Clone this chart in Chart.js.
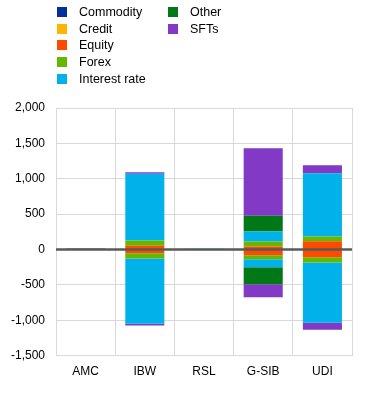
<!DOCTYPE html>
<html>
<head>
<meta charset="utf-8">
<script src="https://cdn.jsdelivr.net/npm/chart.js@4.4.1/dist/chart.umd.min.js"></script>
<style>
  html, body { margin: 0; padding: 0; background: #fff; }
  #wrap { position: relative; width: 373px; height: 407px; }
  #graf { position: absolute; left: 0; top: 0; }
  #leyenda { position: absolute; left: 57px; top: 4px; font-family: "Liberation Sans", Arial, sans-serif; font-size: 12.5px; color: #000; }
  .item { position: absolute; white-space: nowrap; height: 17px; line-height: 17px; }
  .caja { display: inline-block; width: 10px; height: 10px; vertical-align: -1px; margin-right: 12px; }
</style>
</head>
<body>
<div id="wrap">
  <canvas id="graf" width="373" height="407"></canvas>
  <div id="leyenda"></div>
</div>
<script>
const categorias = ['AMC', 'IBW', 'RSL', 'G-SIB', 'UDI'];

const tipos = ['Commodity', 'Credit', 'Equity', 'Forex', 'Interest rate', 'Other', 'SFTs'];
const colores = ['#003299', '#ffb400', '#ff4b00', '#65b800', '#00b1ea', '#007816', '#8139c6'];

// posiciones positivas (largas)
const commodityPos = [0, 0, 0, 0, 0];
const creditPos = [0, 0, 0, 0, 0];
const equityPos = [0, 52, 0, 42, 118];
const forexPos = [0, 75, 0, 71, 67];
const interesPos = [0, 945, 12, 142, 893];
const otherPos = [0, 0, 0, 222, 0];
const sftPos = [0, 20, 0, 954, 113];

// posiciones negativas (cortas)
const commodityNeg = [0, 0, 0, 0, 0];
const creditNeg = [0, 0, 0, 0, 0];
const equityNeg = [0, -53, 0, -80, -109];
const forexNeg = [0, -75, 0, -57, -75];
const interesNeg = [0, -921, 0, -113, -850];
const otherNeg = [0, 0, 0, -241, 0];
const sftNeg = [0, -24, 0, -184, -99];

// barra gris pequeña de AMC (sin leyenda)
const sinAsignar = [15, 0, 0, 0, 0];

const yTicks = [-1500, -1000, -500, 0, 500, 1000, 1500, 2000];

const positivos = [commodityPos, creditPos, equityPos, forexPos, interesPos, otherPos, sftPos];
const negativos = [commodityNeg, creditNeg, equityNeg, forexNeg, interesNeg, otherNeg, sftNeg];

const datasets = [];
tipos.forEach((t, i) => {
  datasets.push({ label: t, data: positivos[i], backgroundColor: colores[i], stack: 's' });
});
tipos.forEach((t, i) => {
  datasets.push({ label: t + ' (neg)', data: negativos[i], backgroundColor: colores[i], stack: 's' });
});
datasets.push({ label: 'n/a', data: sinAsignar, backgroundColor: '#595959', stack: 's' });

// leyenda en dos columnas
const ley = document.getElementById('leyenda');
tipos.forEach((t, i) => {
  const col = i < 5 ? 0 : 1;
  const fila = i < 5 ? i : i - 5;
  const div = document.createElement('div');
  div.className = 'item';
  div.style.left = (col * 111) + 'px';
  div.style.top = (fila * 16.7) + 'px';
  div.innerHTML = '<span class="caja" style="background:' + colores[i] + '"></span>' + t;
  ley.appendChild(div);
});

// linea del cero encima de las barras
const lineaCero = {
  id: 'lineaCero',
  afterDatasetsDraw(chart) {
    const y = chart.scales.y.getPixelForValue(0);
    const a = chart.chartArea;
    const ctx = chart.ctx;
    ctx.save();
    ctx.strokeStyle = '#595959';
    ctx.lineWidth = 2.5;
    ctx.beginPath();
    ctx.moveTo(a.left, y);
    ctx.lineTo(a.right, y);
    ctx.stroke();
    ctx.restore();
  }
};

new Chart(document.getElementById('graf'), {
  type: 'bar',
  data: { labels: categorias, datasets },
  plugins: [lineaCero],
  options: {
    responsive: false,
    animation: false,
    datasets: {
      bar: { barPercentage: 0.66, categoryPercentage: 1 }
    },
    layout: {
      padding: { top: 108, right: 21, bottom: 19, left: 0 }
    },
    scales: {
      x: {
        stacked: true,
        grid: { color: '#d9d9d9', drawTicks: false },
        border: { display: false },
        ticks: {
          color: '#000',
          padding: 9,
          font: { family: 'Liberation Sans', size: 12 }
        }
      },
      y: {
        stacked: true,
        min: yTicks[0],
        max: yTicks[yTicks.length - 1],
        afterBuildTicks: s => { s.ticks = yTicks.map(v => ({ value: v })); },
        grid: { color: '#d9d9d9', drawTicks: false },
        border: { display: false },
        ticks: {
          color: '#000',
          padding: 11,
          font: { family: 'Liberation Sans', size: 12 },
          callback: v => v.toLocaleString('en-US')
        }
      }
    },
    plugins: {
      legend: { display: false },
      tooltip: { enabled: false }
    }
  }
});
</script>
</body>
</html>
